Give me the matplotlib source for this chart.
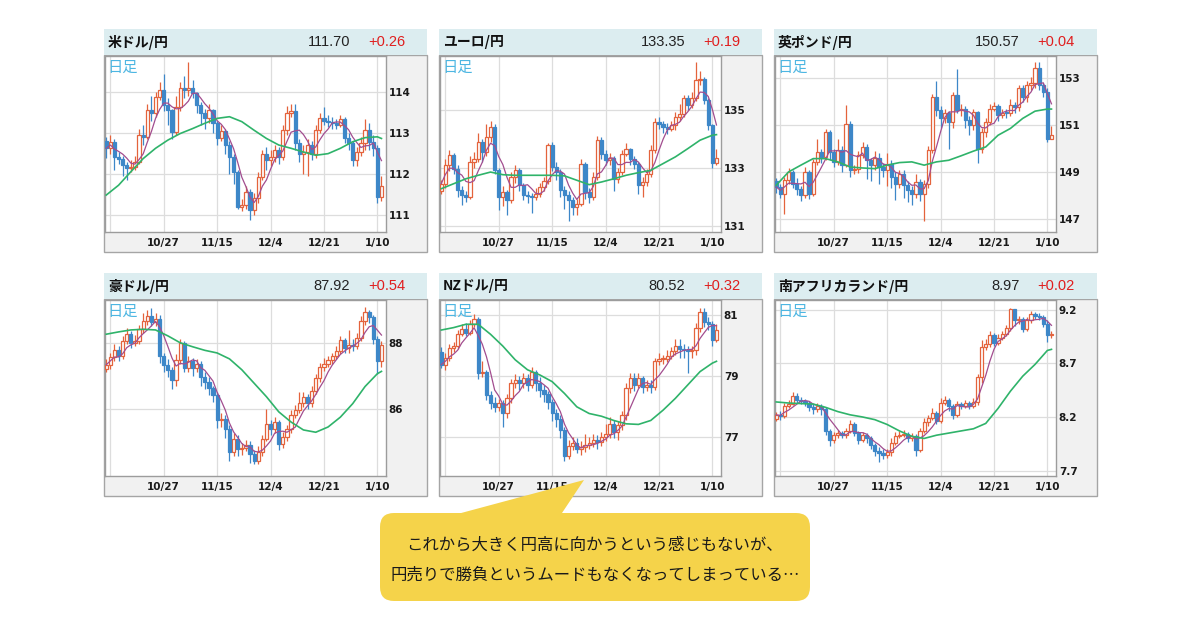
import matplotlib.pyplot as plt
import numpy as np
import pandas as pd
from matplotlib.patches import Rectangle, FancyBboxPatch, Polygon

plt.rcParams['font.family'] = ['Noto Sans CJK JP', 'DejaVu Sans']

W, H = 1200, 630

# x positions are trading-day indexes (0 .. 67), gridlines every 13 days
date_pos = [1, 14, 27, 40, 53, 66]
date_labels = ['', '10/27', '11/15', '12/4', '12/21', '1/10']
ma_x = [0, 3, 6, 9, 12, 15, 18, 21, 24, 27, 30, 33, 36, 39, 42, 45, 48, 51, 54, 57, 60, 63, 66, 67]

titles = ['米ドル/円', 'ユーロ/円', '英ポンド/円', '豪ドル/円', 'NZドル/円', '南アフリカランド/円']
last_values = ['111.70', '133.35', '150.57', '87.92', '80.52', '8.97']
changes = ['+0.26', '+0.19', '+0.04', '+0.54', '+0.32', '+0.02']

# ---- USD/JPY
usd_open0 = 112.80
usd_close = [112.63, 112.79, 112.42, 112.38, 112.22, 112.14, 112.18, 112.30, 112.95, 112.91,
             113.56, 113.48, 113.89, 114.05, 113.68, 113.56, 113.03, 113.64, 114.09, 114.05,
             114.09, 113.97, 113.68, 113.48, 113.36, 113.56, 113.24, 112.87, 113.05, 112.71,
             112.42, 112.06, 111.20, 111.24, 111.57, 111.12, 111.41, 111.93, 112.50, 112.34,
             112.42, 112.59, 112.42, 113.07, 113.50, 113.54, 112.75, 112.50, 112.54, 112.71,
             112.50, 113.07, 113.37, 113.29, 113.26, 113.24, 113.21, 113.34, 112.87, 112.75,
             112.34, 112.54, 112.75, 113.07, 112.79, 112.64, 111.45, 111.70]
usd_high = [112.9, 112.95, 112.85, 112.55, 112.45, 112.3, 112.35, 112.45, 113.1, 113.2,
            113.7, 113.9, 114.0, 114.25, 114.45, 113.85, 113.6, 113.9, 114.25, 114.4,
            114.74, 114.3, 114.0, 113.75, 113.6, 113.7, 113.6, 113.3, 113.2, 113.1,
            112.8, 112.5, 112.1, 111.4, 111.7, 111.65, 111.55, 112.05, 112.6, 112.65,
            112.6, 112.7, 112.65, 113.2, 113.65, 113.7, 113.7, 112.85, 112.7, 112.85,
            112.8, 113.2, 113.5, 113.64, 113.45, 113.4, 113.35, 113.45, 113.4, 113.0,
            112.8, 112.65, 112.9, 113.35, 113.25, 112.95, 112.7, 111.95]
usd_low = [112.4, 112.5, 112.1, 112.25, 111.95, 111.85, 112.05, 112.1, 112.25, 112.7,
           112.85, 113.3, 113.4, 113.8, 113.55, 113.2, 112.85, 112.95, 113.55, 113.85,
           113.9, 113.85, 113.5, 113.2, 113.1, 113.25, 113.0, 112.7, 112.8, 112.5,
           112.0, 111.75, 111.15, 111.1, 111.15, 110.88, 111.0, 111.3, 111.85, 112.1,
           112.2, 112.3, 112.25, 112.35, 112.95, 113.4, 112.6, 112.3, 112.0, 111.95,
           112.35, 112.4, 113.0, 113.2, 113.15, 113.1, 113.1, 113.15, 112.75, 112.6,
           112.2, 112.2, 112.45, 112.6, 112.6, 112.45, 111.3, 111.35]
usd_ma25 = [111.49, 111.73, 112.06, 112.38, 112.63, 112.83, 112.99, 113.11, 113.24, 113.36, 113.40, 113.28,
            113.07, 112.87, 112.71, 112.63, 112.54, 112.46, 112.50, 112.63, 112.79, 112.89, 112.91, 112.87]

# ---- EUR/JPY
eur_open0 = 132.20
eur_close = [132.46, 133.09, 133.43, 132.98, 132.23, 132.06, 132.01, 133.21, 133.32, 133.89,
             133.55, 134.06, 134.41, 132.92, 132.01, 132.18, 131.89, 132.69, 132.92, 132.43,
             132.06, 132.04, 132.01, 132.12, 132.35, 132.54, 133.78, 133.03, 132.86, 132.23,
             132.06, 131.89, 131.66, 131.78, 133.15, 132.18, 132.01, 132.69, 133.95, 133.49,
             133.26, 133.34, 132.63, 132.86, 133.49, 133.64, 133.32, 133.15, 132.41, 132.52,
             132.81, 133.61, 134.58, 134.49, 134.41, 134.35, 134.46, 134.75, 134.86, 135.38,
             135.15, 135.40, 136.01, 136.04, 135.32, 134.46, 133.18, 133.35]
eur_high = [132.6, 133.3, 133.6, 133.5, 133.1, 132.4, 132.2, 133.4, 133.55, 134.2,
            134.0, 134.5, 134.6, 134.5, 133.0, 132.4, 132.25, 132.85, 133.1, 133.0,
            132.5, 132.2, 132.15, 132.3, 132.5, 132.7, 133.85, 133.9, 133.2, 132.95,
            132.4, 132.2, 132.0, 131.95, 133.3, 133.2, 132.3, 132.85, 134.1, 134.05,
            133.6, 133.5, 133.4, 133.0, 133.6, 133.85, 133.7, 133.4, 133.2, 132.7,
            132.95, 133.8, 134.7, 134.75, 134.6, 134.55, 134.6, 134.9, 135.2, 135.5,
            135.5, 135.6, 136.63, 136.3, 136.1, 135.4, 134.5, 133.65]
eur_low = [132.1, 132.3, 132.9, 132.8, 132.0, 131.75, 131.85, 131.95, 133.0, 133.2,
           133.2, 133.4, 133.9, 132.8, 131.55, 131.7, 131.4, 131.8, 132.5, 132.2,
           131.9, 131.8, 131.45, 131.9, 132.0, 132.2, 132.45, 132.9, 132.6, 132.0,
           131.6, 131.2, 131.4, 131.4, 131.7, 131.95, 131.8, 131.9, 132.6, 133.3,
           133.1, 133.1, 132.2, 132.5, 132.75, 133.4, 133.1, 132.95, 132.1, 132.0,
           132.4, 132.7, 133.5, 134.35, 134.2, 134.15, 134.25, 134.3, 134.6, 134.75,
           135.0, 135.05, 135.3, 135.85, 135.2, 134.3, 133.0, 133.1]
eur_ma25 = [132.29, 132.46, 132.63, 132.75, 132.86, 132.77, 132.75, 132.75, 132.75, 132.75, 132.73, 132.58,
            132.43, 132.52, 132.63, 132.75, 132.84, 132.92, 133.15, 133.38, 133.66, 133.95, 134.12, 134.14]

# ---- GBP/JPY
gbp_open0 = 148.60
gbp_close = [148.36, 148.07, 148.64, 149.0, 148.5, 148.29, 148.0, 149.0, 148.07, 149.43,
             149.86, 149.64, 150.71, 149.86, 149.43, 149.93, 149.29, 151.07, 149.07, 149.11,
             149.71, 150.07, 149.5, 149.29, 149.6, 149.21, 149.07, 149.36, 148.79, 148.5,
             148.93, 148.43, 148.21, 148.07, 148.57, 148.07, 148.5, 149.93, 152.21, 151.64,
             151.29, 151.5, 151.14, 152.29, 151.64, 151.71, 151.21, 151.0, 151.57, 150.0,
             150.71, 151.14, 151.71, 151.83, 151.43, 151.54, 151.5, 151.86, 151.79, 152.57,
             152.21, 152.71, 152.79, 153.43, 152.71, 152.43, 150.43, 150.57]
gbp_high = [148.75, 148.5, 148.8, 149.15, 149.1, 148.75, 148.4, 149.2, 149.1, 149.55,
            150.4, 150.0, 150.85, 150.8, 150.0, 150.4, 150.1, 151.85, 151.2, 149.3,
            149.9, 150.3, 150.2, 149.6, 149.9, 149.8, 149.4, 149.8, 149.5, 149.0,
            149.1, 149.1, 148.6, 148.4, 148.9, 148.7, 148.65, 150.1, 152.35, 152.9,
            151.8, 151.7, 151.6, 152.4, 153.4, 151.9, 151.8, 151.4, 151.7, 151.6,
            150.9, 151.3, 151.9, 152.0, 151.9, 151.7, 151.7, 152.1, 152.0, 152.7,
            152.7, 152.9, 153.05, 153.7, 153.7, 152.8, 152.6, 150.95]
gbp_low = [148.1, 147.9, 147.2, 148.5, 148.3, 148.0, 147.75, 147.9, 147.85, 147.95,
           149.3, 149.4, 149.5, 149.5, 149.2, 149.3, 149.0, 149.2, 148.8, 148.9,
           148.95, 149.6, 148.7, 148.6, 149.1, 148.5, 148.8, 148.4, 148.3, 147.8,
           148.3, 147.9, 147.7, 147.6, 147.9, 147.75, 146.9, 148.3, 149.8, 151.4,
           150.9, 151.1, 150.0, 150.9, 151.5, 151.4, 150.9, 150.6, 150.8, 149.4,
           149.8, 150.5, 151.0, 151.6, 151.2, 151.3, 151.3, 151.4, 151.5, 151.6,
           152.0, 152.0, 152.5, 152.6, 152.5, 152.2, 150.3, 150.4]
gbp_ma25 = [148.43, 149.0, 149.29, 149.57, 149.57, 149.43, 149.21, 149.17, 149.14, 149.29, 149.4, 149.43,
            149.29, 149.43, 149.5, 149.69, 149.89, 150.07, 150.57, 150.86, 151.29, 151.6, 151.69, 151.69]

# ---- AUD/JPY
aud_open0 = 87.20
aud_close = [87.33, 87.57, 87.79, 87.59, 88.05, 88.26, 88.0, 88.05, 88.41, 88.67,
             88.82, 88.62, 88.72, 87.59, 87.33, 87.18, 86.87, 87.49, 88.0, 87.23,
             87.44, 87.23, 87.35, 86.97, 86.82, 86.62, 86.41, 85.64, 85.69, 85.38,
             84.67, 85.08, 84.77, 84.8, 84.9, 84.62, 84.41, 84.67, 85.08, 85.54,
             85.38, 85.59, 84.92, 85.13, 85.38, 85.79, 85.95, 86.17, 86.34, 86.17,
             86.54, 86.92, 87.26, 87.36, 87.47, 87.59, 87.74, 88.08, 87.85, 87.92,
             87.90, 88.15, 88.67, 88.94, 88.77, 88.10, 87.44, 87.92]
aud_high = [87.5, 87.7, 87.95, 87.9, 88.2, 88.45, 88.35, 88.25, 88.55, 88.9,
            89.0, 89.05, 88.9, 88.85, 87.7, 87.5, 87.25, 87.65, 88.1, 88.05,
            87.6, 87.55, 87.5, 87.45, 87.1, 86.95, 86.7, 86.5, 85.85, 85.8,
            85.5, 85.25, 85.2, 84.95, 85.05, 85.0, 84.75, 84.85, 85.2, 86.0,
            85.65, 85.75, 85.65, 85.3, 85.5, 85.95, 86.1, 86.5, 86.5, 86.45,
            86.7, 87.05, 87.4, 87.55, 87.6, 87.7, 87.9, 88.2, 88.15, 88.4,
            88.1, 88.3, 88.8, 89.1, 89.0, 88.85, 88.2, 88.05]
aud_low = [87.1, 87.2, 87.45, 87.45, 87.5, 87.95, 87.85, 87.9, 87.95, 88.3,
           88.55, 88.5, 88.5, 87.4, 87.1, 86.95, 86.6, 86.7, 87.35, 87.1,
           87.1, 87.0, 87.1, 86.7, 86.6, 86.4, 86.2, 85.4, 85.45, 85.1,
           84.4, 84.55, 84.55, 84.6, 84.7, 84.35, 84.3, 84.3, 84.55, 85.0,
           85.2, 85.25, 84.75, 84.8, 85.0, 85.25, 85.7, 85.85, 86.05, 86.0,
           86.05, 86.45, 86.8, 87.15, 87.25, 87.35, 87.5, 87.65, 87.7, 87.7,
           87.75, 87.8, 88.05, 88.55, 88.6, 87.95, 87.05, 87.25]
aud_ma25 = [88.26, 88.33, 88.39, 88.41, 88.39, 88.21, 88.0, 87.88, 87.77, 87.69, 87.51, 87.18,
            86.77, 86.36, 85.9, 85.59, 85.35, 85.28, 85.44, 85.74, 86.15, 86.67, 87.06, 87.13]

# ---- NZD/JPY
nzd_open0 = 79.80
nzd_close = [79.37, 79.59, 79.92, 79.98, 80.37, 80.56, 80.42, 80.7, 80.87, 79.09,
             79.14, 78.37, 78.09, 77.98, 78.09, 77.76, 78.26, 78.76, 78.87, 78.76,
             78.92, 78.7, 79.14, 78.76, 78.53, 78.4, 78.14, 77.76, 77.59, 77.2,
             76.37, 76.7, 76.78, 76.59, 76.67, 76.73, 76.78, 76.89, 76.81, 77.0,
             77.09, 77.42, 77.14, 77.37, 77.7, 78.59, 78.92, 78.7, 78.92, 78.64,
             78.7, 78.64, 79.48, 79.56, 79.56, 79.67, 79.81, 80.0, 79.87, 79.84,
             79.81, 79.84, 80.59, 81.09, 80.76, 80.7, 80.18, 80.52]
nzd_high = [79.95, 79.75, 80.05, 80.1, 80.5, 80.7, 80.75, 80.85, 81.05, 80.95,
            79.5, 79.2, 78.5, 78.3, 78.25, 78.2, 78.4, 78.9, 79.05, 79.0,
            79.1, 79.05, 79.3, 79.2, 78.95, 78.7, 78.5, 78.25, 77.9, 77.7,
            77.3, 76.9, 77.0, 76.95, 76.85, 77.1, 77.0, 77.1, 77.05, 77.15,
            77.4, 77.65, 77.55, 77.5, 77.85, 78.75, 79.1, 79.1, 79.1, 79.0,
            78.85, 78.85, 79.6, 79.75, 79.7, 79.85, 79.95, 80.2, 80.2, 80.05,
            80.0, 80.0, 80.75, 81.25, 81.25, 80.95, 80.8, 80.7]
nzd_low = [79.25, 79.2, 79.5, 79.8, 79.9, 80.3, 80.3, 80.35, 80.6, 78.9,
           78.95, 78.2, 77.9, 77.8, 77.85, 77.3, 77.6, 78.1, 78.6, 78.55,
           78.6, 78.5, 78.6, 78.5, 78.3, 78.15, 77.9, 77.5, 77.3, 76.95,
           76.2, 76.25, 76.55, 76.45, 76.4, 76.5, 76.6, 76.65, 76.6, 76.7,
           76.85, 76.95, 76.95, 76.9, 77.2, 77.55, 78.45, 78.5, 78.6, 78.45,
           78.5, 78.45, 78.55, 79.35, 79.4, 79.45, 79.55, 79.7, 79.6, 79.6,
           79.1, 79.6, 79.7, 80.45, 80.6, 80.5, 80.0, 80.1]
nzd_ma25 = [80.51, 80.59, 80.7, 80.7, 80.37, 79.98, 79.53, 79.2, 79.03, 78.81, 78.42, 77.98,
            77.76, 77.67, 77.53, 77.42, 77.4, 77.53, 77.87, 78.26, 78.7, 79.14, 79.42, 79.48]

# ---- ZAR/JPY
zar_open0 = 8.18
zar_close = [8.22, 8.21, 8.30, 8.325, 8.40, 8.36, 8.35, 8.33, 8.29, 8.27,
             8.30, 8.27, 8.07, 7.99, 8.03, 8.05, 8.03, 8.07, 8.13, 8.05,
             7.99, 8.03, 8.00, 7.94, 7.88, 7.86, 7.85, 7.87, 7.96, 8.02,
             8.03, 8.04, 8.00, 8.02, 7.89, 8.07, 8.15, 8.19, 8.24, 8.16,
             8.33, 8.36, 8.30, 8.22, 8.32, 8.30, 8.33, 8.30, 8.34, 8.57,
             8.85, 8.88, 8.96, 8.89, 8.94, 8.97, 9.03, 9.21, 9.10, 9.11,
             9.02, 9.10, 9.16, 9.14, 9.13, 9.07, 8.96, 8.97]
zar_high = [8.25, 8.26, 8.33, 8.36, 8.43, 8.42, 8.39, 8.37, 8.35, 8.32,
            8.33, 8.32, 8.29, 8.09, 8.06, 8.08, 8.07, 8.10, 8.17, 8.15,
            8.07, 8.06, 8.05, 8.02, 7.96, 7.92, 7.90, 7.90, 8.0, 8.06,
            8.07, 8.08, 8.06, 8.05, 8.04, 8.10, 8.19, 8.22, 8.28, 8.26,
            8.38, 8.40, 8.38, 8.32, 8.35, 8.34, 8.36, 8.35, 8.38, 8.60,
            8.92, 8.93, 9.0, 8.98, 8.97, 9.0, 9.06, 9.22, 9.21, 9.14,
            9.13, 9.13, 9.19, 9.18, 9.17, 9.15, 9.10, 9.0]
zar_low = [8.16, 8.17, 8.19, 8.28, 8.31, 8.33, 8.32, 8.30, 8.26, 8.23,
           8.25, 8.22, 8.03, 7.93, 7.96, 8.0, 8.0, 8.0, 8.05, 8.02,
           7.95, 7.97, 7.96, 7.90, 7.84, 7.78, 7.81, 7.82, 7.84, 7.94,
           8.0, 8.01, 7.97, 7.98, 7.84, 7.87, 8.05, 8.12, 8.17, 8.13,
           8.14, 8.31, 8.26, 8.18, 8.20, 8.27, 8.28, 8.27, 8.28, 8.31,
           8.52, 8.82, 8.85, 8.86, 8.87, 8.92, 8.95, 9.0, 9.05, 9.07,
           8.99, 9.0, 9.08, 9.11, 9.10, 9.04, 8.90, 8.94]
zar_ma25 = [8.34, 8.33, 8.325, 8.32, 8.29, 8.25, 8.22, 8.20, 8.175, 8.13, 8.07, 8.02,
            8.00, 8.03, 8.05, 8.07, 8.09, 8.14, 8.28, 8.44, 8.58, 8.69, 8.82, 8.83]

y_ticks = [[111, 112, 113, 114], [131, 133, 135], [147, 149, 151, 153],
           [86, 88], [77, 79, 81], [7.7, 8.2, 8.7, 9.2]]
y_ranges = [(110.59, 114.88), (130.81, 136.83), (146.43, 153.96),
            (83.95, 89.30), (75.7, 81.5), (7.65, 9.29)]

series = [
    (usd_open0, usd_close, usd_high, usd_low, usd_ma25),
    (eur_open0, eur_close, eur_high, eur_low, eur_ma25),
    (gbp_open0, gbp_close, gbp_high, gbp_low, gbp_ma25),
    (aud_open0, aud_close, aud_high, aud_low, aud_ma25),
    (nzd_open0, nzd_close, nzd_high, nzd_low, nzd_ma25),
    (zar_open0, zar_close, zar_high, zar_low, zar_ma25),
]

UP = '#e4633c'
DOWN = '#3d87c8'

fig = plt.figure(figsize=(12, 6.3), dpi=100)
fig.patch.set_facecolor('white')

# background layer in pixel coordinates
bg = fig.add_axes([0, 0, 1, 1], zorder=0)
bg.set_xlim(0, W)
bg.set_ylim(H, 0)
bg.axis('off')

for k in range(6):
    row, col = divmod(k, 3)
    left = 104 + col * 335
    top = 29 + row * 244
    open0, close, high, low, ma25 = series[k]

    # panel frame, header band and texts
    bg.add_patch(Rectangle((left, top + 26), 323, 197, fc='#f1f1f1', ec='#a5a5a5', lw=1))
    bg.add_patch(Rectangle((left, top), 323, 26, fc='#dcedf0', ec='none'))
    bg.text(left + 4, top + 13, titles[k], fontsize=10, fontweight='bold',
            va='center', ha='left', color='#111111')
    bg.text(left + 246, top + 13, last_values[k], fontsize=10.5, va='center', ha='right',
            color='#222222', family=['Liberation Sans Narrow', 'Liberation Sans', 'DejaVu Sans'])
    bg.text(left + 301, top + 13, changes[k], fontsize=10.5, va='center', ha='right',
            color='#e01e1e', family=['Liberation Sans Narrow', 'Liberation Sans', 'DejaVu Sans'])

    ax = fig.add_axes([(left + 1) / W, 1 - (top + 203) / H, 281 / W, 176 / H], zorder=1)
    ax.set_facecolor('white')

    x = np.arange(len(close))
    opens = np.array([open0] + close[:-1])
    close_a = np.array(close)
    rising = close_a >= opens

    # wicks then bodies
    ax.vlines(x[rising], np.array(low)[rising], np.array(high)[rising], color=UP, lw=0.9, zorder=3)
    ax.vlines(x[~rising], np.array(low)[~rising], np.array(high)[~rising], color=DOWN, lw=0.9, zorder=3)
    body_bottom = np.minimum(opens, close_a)
    body_height = np.maximum(np.abs(close_a - opens), (y_ranges[k][1] - y_ranges[k][0]) * 0.006)
    ax.bar(x[rising], body_height[rising], bottom=body_bottom[rising], width=0.78,
           color='white', edgecolor=UP, linewidth=0.9, zorder=4)
    ax.bar(x[~rising], body_height[~rising], bottom=body_bottom[~rising], width=0.78,
           color=DOWN, edgecolor=DOWN, linewidth=0.9, zorder=4)

    # moving averages
    ma5 = pd.Series(close).rolling(5, min_periods=1).mean()
    ax.plot(x, ma5, color='#a24d8f', lw=0.9, zorder=5)
    ax.plot(ma_x, ma25, color='#2fb36a', lw=1.2, zorder=5)

    ax.set_xlim(-0.3, 68.1)
    ax.set_ylim(*y_ranges[k])
    ax.set_xticks(date_pos)
    ax.set_xticklabels(date_labels)
    ax.set_yticks(y_ticks[k])
    ax.set_yticklabels([str(v) for v in y_ticks[k]])
    ax.yaxis.tick_right()
    ax.tick_params(axis='both', length=0, labelsize=7.5, colors='#1a1a1a')
    ax.tick_params(axis='y', pad=2)
    ax.tick_params(axis='x', pad=4)
    for lab in ax.get_xticklabels() + ax.get_yticklabels():
        lab.set_fontweight('bold')
        lab.set_family('DejaVu Sans')
    ax.grid(True, color='#dddddd', lw=0.9)
    ax.set_axisbelow(True)
    for sp in ax.spines.values():
        sp.set_color('#9c9c9c')
        sp.set_linewidth(1)
    ax.text(0.008, 0.985, '日足', transform=ax.transAxes, fontsize=11, color='#4db6e2',
            ha='left', va='top', zorder=6)

# speech bubble overlay
top_layer = fig.add_axes([0, 0, 1, 1], zorder=10)
top_layer.set_xlim(0, W)
top_layer.set_ylim(H, 0)
top_layer.axis('off')
bubble_color = '#f5d34a'
top_layer.add_patch(Polygon([(450, 516), (560, 516), (584, 480)], closed=True,
                            fc=bubble_color, ec='none'))
top_layer.add_patch(FancyBboxPatch((380, 513), 430, 88, boxstyle='round,pad=0,rounding_size=14',
                                   fc=bubble_color, ec='none'))
top_layer.text(595, 545, 'これから大きく円高に向かうという感じもないが、', fontsize=11.8,
               ha='center', va='center', color='#1a1a1a')
top_layer.text(595, 575, '円売りで勝負というムードもなくなってしまっている…', fontsize=11.8,
               ha='center', va='center', color='#1a1a1a')

fig.savefig('out.png', dpi=100)
